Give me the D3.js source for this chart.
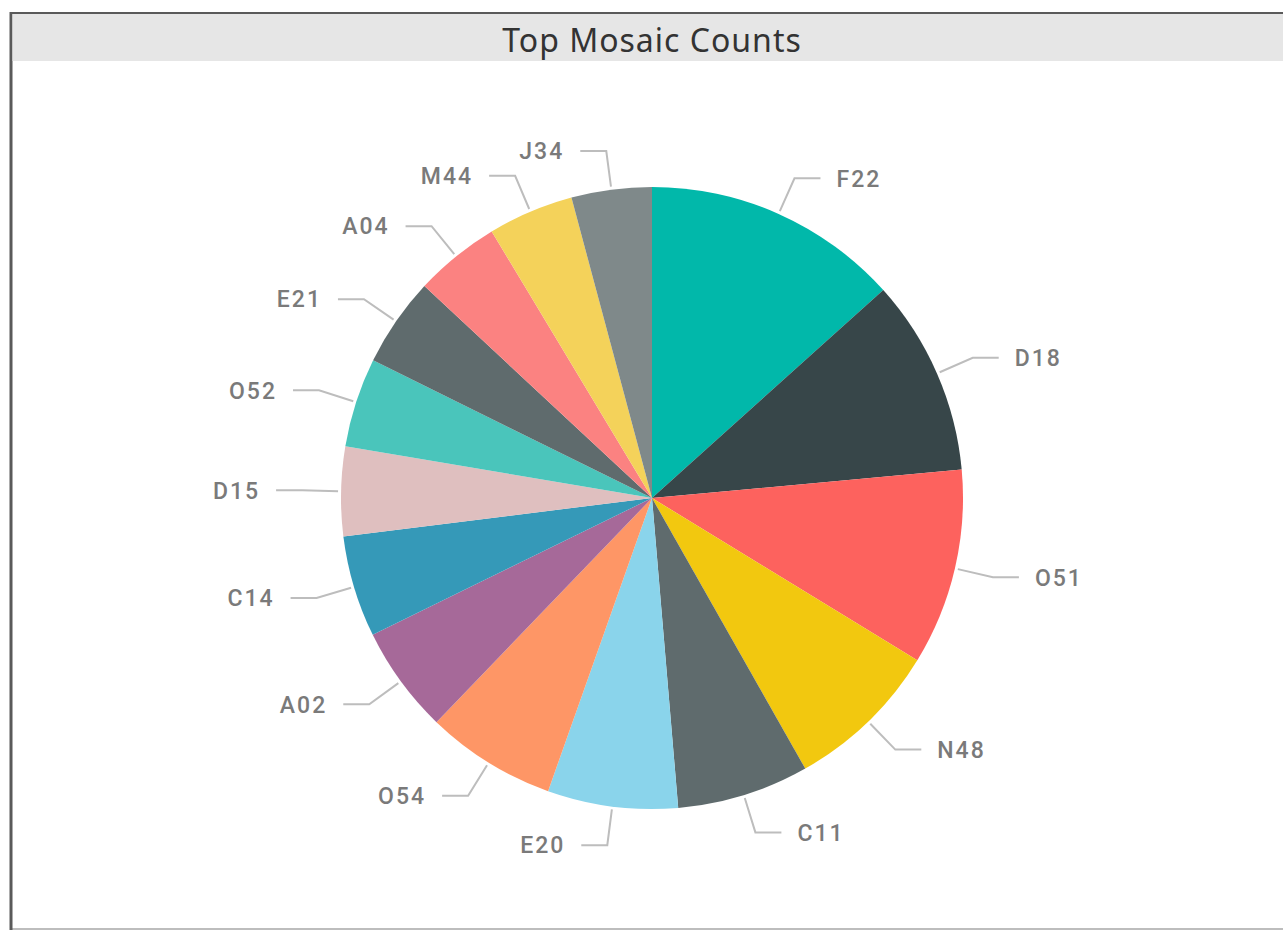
<!DOCTYPE html>
<html>
<head>
<meta charset="utf-8">
<script src="https://cdn.jsdelivr.net/npm/d3@7"></script>
<style>
  body { margin: 0; background: #fff; }
  svg { display: block; }
</style>
</head>
<body>
<div id="chart"></div>
<script>
// slices in draw order (clockwise from 12 o'clock)
var categories = ["F22", "D18", "O51", "N48", "C11", "E20", "O54", "A02", "C14", "D15", "O52", "E21", "A04", "M44", "J34"];
var counts = [144, 110, 110, 87, 74, 73, 73, 60, 57, 50, 50, 50, 48, 48, 45];
var colours = ["#01B8AA", "#374649", "#FD625E", "#F2C80F", "#5F6B6D", "#8AD4EB", "#FE9666",
               "#A66999", "#3599B8", "#DFBFBF", "#4AC5BB", "#5F6B6D", "#FB8281", "#F4D25A", "#7F898A"];
var title = "Top Mosaic Counts";

var width = 1283;
var height = 931;
var cx = 652, cy = 498;
var radius = 311;

var data = categories.map(function(c, i) { return { name: c, value: counts[i], colour: colours[i] }; });

var svg = d3.select("#chart")
    .append("svg")
    .attr("width", width)
    .attr("height", height);

// frame + title band
svg.append("rect")
    .attr("x", 11).attr("y", 13)
    .attr("width", width + 10).attr("height", 916)
    .attr("fill", "#fff")
    .attr("stroke", "#bdbdbd").attr("stroke-width", 2);
svg.append("line")
    .attr("x1", 11).attr("y1", 12).attr("x2", 11).attr("y2", 930)
    .attr("stroke", "#5a5a5a").attr("stroke-width", 3);
svg.append("line")
    .attr("x1", 10).attr("y1", 13).attr("x2", width).attr("y2", 13)
    .attr("stroke", "#5a5a5a").attr("stroke-width", 2);
svg.append("rect")
    .attr("x", 12.5).attr("y", 14)
    .attr("width", width).attr("height", 47)
    .attr("fill", "#e6e6e6");
svg.append("text")
    .attr("x", cx).attr("y", 43)
    .attr("text-anchor", "middle")
    .attr("dominant-baseline", "middle")
    .style("font-family", "'Segoe UI', 'Noto Sans', sans-serif")
    .style("font-size", "32px")
    .style("letter-spacing", "1px")
    .style("fill", "#333")
    .text(title);

var g = svg.append("g")
    .attr("transform", "translate(" + cx + "," + cy + ")");

var pie = d3.pie()
    .sort(null)
    .value(function(d) { return d.value; });

var arc = d3.arc()
    .innerRadius(0)
    .outerRadius(radius);

var arcs = pie(data);

g.selectAll("path.slice")
    .data(arcs)
    .enter().append("path")
    .attr("class", "slice")
    .attr("d", arc)
    .style("fill", function(d) { return d.data.colour; });

// leader lines + labels
var lineStart = radius + 3;
var elbowR = 350;
var tail = 26;

function midAngle(d) { return (d.startAngle + d.endAngle) / 2; }
function polar(r, a) { return [Math.sin(a) * r, -Math.cos(a) * r]; }

g.selectAll("polyline.leader")
    .data(arcs)
    .enter().append("polyline")
    .attr("class", "leader")
    .attr("points", function(d) {
        var a = midAngle(d);
        var p0 = polar(lineStart, a);
        var p1 = polar(elbowR, a);
        var side = Math.sin(a) >= 0 ? 1 : -1;
        var p2 = [p1[0] + side * tail, p1[1]];
        return [p0, p1, p2].join(" ");
    })
    .style("fill", "none")
    .style("stroke", "#bdbdbd")
    .style("stroke-width", 2);

g.selectAll("text.label")
    .data(arcs)
    .enter().append("text")
    .attr("class", "label")
    .attr("x", function(d) {
        var a = midAngle(d);
        var side = Math.sin(a) >= 0 ? 1 : -1;
        return polar(elbowR, a)[0] + side * (tail + 16);
    })
    .attr("y", function(d) { return polar(elbowR, midAngle(d))[1]; })
    .attr("dy", "0.36em")
    .attr("text-anchor", function(d) { return Math.sin(midAngle(d)) >= 0 ? "start" : "end"; })
    .style("font-family", "Roboto, 'DejaVu Sans', sans-serif")
    .style("font-size", "23px")
    .style("font-weight", "500")
    .style("letter-spacing", "2px")
    .style("fill", "#7a7a7a")
    .text(function(d) { return d.data.name; });
</script>
</body>
</html>
